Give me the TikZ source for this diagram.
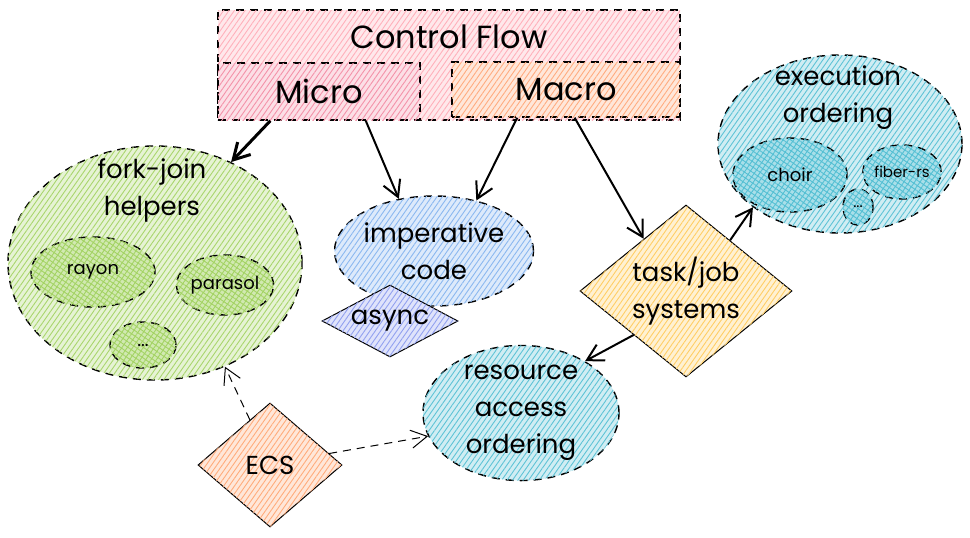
\documentclass[tikz,border=0pt]{standalone}
\usepackage{fontspec}
\setmainfont{Poppins}
\usepackage{xcolor}
\usetikzlibrary{shapes.geometric, arrows.meta, patterns.meta}

\definecolor{flowpink}{RGB}{255,150,165}
\definecolor{micropink}{RGB}{240,110,140}
\definecolor{macroorange}{RGB}{255,145,85}
\definecolor{forkgreen}{RGB}{140,200,60}
\definecolor{impblue}{RGB}{100,160,235}
\definecolor{asyncblue}{RGB}{110,130,235}
\definecolor{execcyan}{RGB}{40,175,200}
\definecolor{taskyellow}{RGB}{255,190,50}
\definecolor{ecsorange}{RGB}{255,145,80}

\tikzset{
  sketch/.style={draw, line width=0.7pt, dash pattern=on 4pt off 3pt},
  region/.style={sketch, rectangle, inner sep=0pt},
  blob/.style={sketch, ellipse, inner sep=0pt},
  gem/.style={draw, line width=0.5pt, diamond, inner sep=0pt},
  hatch/.style={fill=#1!22, postaction={pattern={Lines[angle=55,distance=2.2pt,line width=0.45pt]}, pattern color=#1!75}},
  crosshatch/.style={fill=#1!40, postaction={pattern={Lines[angle=55,distance=2.2pt,line width=0.45pt]}, pattern color=#1!80},
    postaction={pattern={Lines[angle=-35,distance=2.2pt,line width=0.45pt]}, pattern color=#1!80}},
  bigtext/.style={font=\fontsize{16}{20}\selectfont},
  midtext/.style={font=\fontsize{13}{18.5}\selectfont, align=center},
  smalltext/.style={font=\fontsize{9}{11}\selectfont},
  tinytext/.style={font=\fontsize{7.5}{9}\selectfont},
  flow/.style={-{Straight Barb[length=8pt,width=9pt]}, line width=1pt},
  link/.style={-{Straight Barb[length=8pt,width=9pt]}, line width=0.5pt, dash pattern=on 4pt off 3pt},
}

\begin{document}
\begin{tikzpicture}[x=0.5pt, y=-0.5pt]
\useasboundingbox (0,0) rectangle (970,537);

% Control flow and its two halves
\node[region, hatch=flowpink, minimum width=231pt, minimum height=55pt] (ctrl) at (449,65) {};
\node[bigtext] (ctrltxt) at (449,37) {Control Flow};
\node[region, hatch=micropink, minimum width=101pt, minimum height=28.5pt, bigtext] (micro) at (319,91.5) {Micro};
\node[region, hatch=macroorange, minimum width=114pt, minimum height=27.5pt, bigtext] (macro) at (566,89.5) {Macro};

% Fork-join helpers
\node[blob, hatch=forkgreen, minimum width=147pt, minimum height=117pt] (fork) at (155,263) {};
\node[midtext] (forktxt) at (152,190) {fork-join\\helpers};
\node[blob, crosshatch=forkgreen, minimum width=62pt, minimum height=35pt, smalltext] (rayon) at (93,272) {rayon};
\node[blob, crosshatch=forkgreen, minimum width=48pt, minimum height=30pt, smalltext] (parasol) at (225,285) {parasol};
\node[blob, crosshatch=forkgreen, minimum width=33pt, minimum height=23pt, smalltext] (forkdots) at (143,345) {...};

% Imperative code
\node[blob, hatch=impblue, minimum width=89pt, minimum height=55pt, midtext] (imp) at (434,251) {imperative\\code};
\node[gem, hatch=asyncblue, aspect=1.9, minimum width=68pt, minimum height=36pt, midtext] (async) at (390,321) {async};

% Execution ordering
\node[blob, hatch=execcyan, minimum width=122pt, minimum height=89pt] (exec) at (840,144) {};
\node[midtext] (exectxt) at (838,98) {execution\\ordering};
\node[blob, crosshatch=execcyan, minimum width=57pt, minimum height=37pt, smalltext] (choir) at (790,175) {choir};
\node[blob, crosshatch=execcyan, minimum width=38pt, minimum height=27pt, tinytext] (fibers) at (902,172) {fiber-rs};
\node[blob, crosshatch=execcyan, minimum width=15pt, minimum height=18pt, tinytext] (execdots) at (858,207) {...};

% Task/job systems
\node[gem, hatch=taskyellow, aspect=1.23, minimum width=106pt, minimum height=86pt, midtext] (task) at (686,291) {task/job\\systems};

% Resource access ordering
\node[blob, hatch=execcyan, minimum width=98pt, minimum height=60pt, midtext] (res) at (521,413) {resource\\access\\ordering};

% ECS
\node[gem, hatch=ecsorange, aspect=1.16, minimum width=72pt, minimum height=62pt, midtext] (ecs) at (270,465) {ECS};

% Arrows
\draw[flow, line width=1.5pt] (micro.211) -- (fork.53);
\draw[flow] (micro.-32) -- (imp.124);
\draw[flow] (macro.210) -- (imp.50);
\draw[flow] (macro.-73) -- (task.129);
\draw[flow] (task.49) -- (exec.216);
\draw[flow] (task.220) -- (res.39);
\draw[link] (ecs.114) -- (fork.-56);
\draw[link] (ecs.11) -- (res.194);
\end{tikzpicture}
\end{document}
